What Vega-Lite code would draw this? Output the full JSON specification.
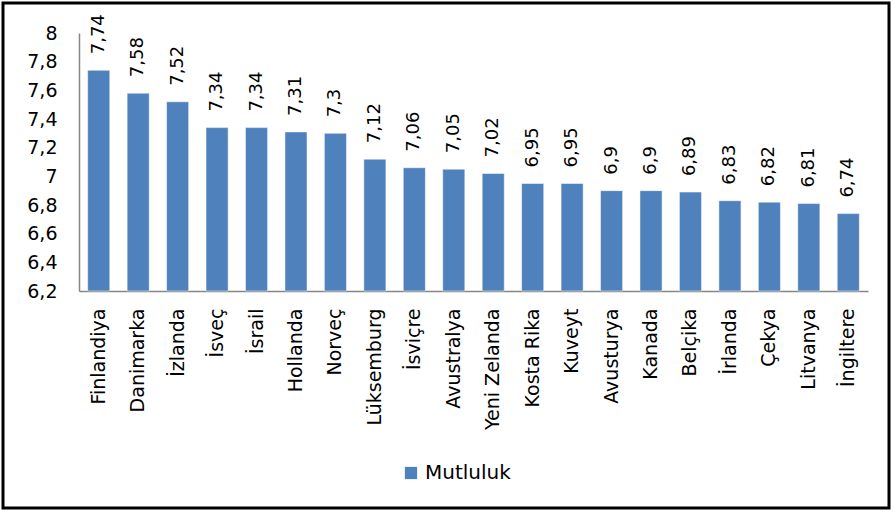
{
  "$schema": "https://vega.github.io/schema/vega-lite/v6.json",
  "autosize": "none",
  "width": 886,
  "height": 505,
  "padding": {"left": 3, "top": 3, "right": 5, "bottom": 5},
  "background": "white",
  "config": {
    "locale": {"number": {"decimal": ",", "thousands": ".", "grouping": [3], "currency": ["", " TL"]}},
    "view": {"stroke": "#000000", "strokeWidth": 3},
    "font": "DejaVu Sans"
  },
  "data": {
    "values": [
      {"ulke": "Finlandiya", "deger": 7.74, "seri": "Mutluluk"},
      {"ulke": "Danimarka", "deger": 7.58, "seri": "Mutluluk"},
      {"ulke": "İzlanda", "deger": 7.52, "seri": "Mutluluk"},
      {"ulke": "İsveç", "deger": 7.34, "seri": "Mutluluk"},
      {"ulke": "İsrail", "deger": 7.34, "seri": "Mutluluk"},
      {"ulke": "Hollanda", "deger": 7.31, "seri": "Mutluluk"},
      {"ulke": "Norveç", "deger": 7.3, "seri": "Mutluluk"},
      {"ulke": "Lüksemburg", "deger": 7.12, "seri": "Mutluluk"},
      {"ulke": "İsviçre", "deger": 7.06, "seri": "Mutluluk"},
      {"ulke": "Avustralya", "deger": 7.05, "seri": "Mutluluk"},
      {"ulke": "Yeni Zelanda", "deger": 7.02, "seri": "Mutluluk"},
      {"ulke": "Kosta Rika", "deger": 6.95, "seri": "Mutluluk"},
      {"ulke": "Kuveyt", "deger": 6.95, "seri": "Mutluluk"},
      {"ulke": "Avusturya", "deger": 6.9, "seri": "Mutluluk"},
      {"ulke": "Kanada", "deger": 6.9, "seri": "Mutluluk"},
      {"ulke": "Belçika", "deger": 6.89, "seri": "Mutluluk"},
      {"ulke": "İrlanda", "deger": 6.83, "seri": "Mutluluk"},
      {"ulke": "Çekya", "deger": 6.82, "seri": "Mutluluk"},
      {"ulke": "Litvanya", "deger": 6.81, "seri": "Mutluluk"},
      {"ulke": "İngiltere", "deger": 6.74, "seri": "Mutluluk"}
    ]
  },
  "encoding": {
    "x": {
      "field": "ulke", "type": "nominal", "sort": null, "title": null,
      "scale": {"range": [76, 865], "paddingInner": 0.44, "paddingOuter": 0.22},
      "axis": {
        "offset": -217, "labelAngle": -90, "labelAlign": "right", "labelBaseline": "middle",
        "labelFontSize": 19, "labelColor": "#000000", "labelPadding": 17,
        "ticks": false, "domainColor": "#868686", "domainWidth": 1.5, "grid": false
      }
    },
    "y": {
      "field": "deger", "type": "quantitative", "title": null,
      "scale": {"domain": [6.2, 8], "range": [288, 30], "zero": false, "nice": false},
      "axis": {
        "offset": -76, "values": [6.2, 6.4, 6.6, 6.8, 7, 7.2, 7.4, 7.6, 7.8, 8], "format": "~g",
        "labelFontSize": 19, "labelColor": "#000000", "labelPadding": 22,
        "ticks": false, "domainColor": "#868686", "domainWidth": 1.5, "grid": false
      }
    }
  },
  "layer": [
    {
      "mark": {"type": "bar", "stroke": "#FFFFFF", "strokeWidth": 0.5},
      "encoding": {
        "y2": {"datum": 6.2},
        "color": {
          "field": "seri", "type": "nominal", "title": null,
          "scale": {"range": ["#4F81BD"]},
          "legend": {
            "orient": "none", "legendX": 398, "legendY": 460, "symbolType": "square",
            "symbolSize": 150, "labelFontSize": 20, "labelColor": "#000000", "symbolStrokeWidth": 0
          }
        }
      }
    },
    {
      "mark": {"type": "text", "angle": -90, "align": "left", "baseline": "middle", "dx": 16, "fontSize": 18, "color": "#000000"},
      "encoding": {
        "text": {"field": "deger", "type": "quantitative", "format": "~g"}
      }
    }
  ]
}
